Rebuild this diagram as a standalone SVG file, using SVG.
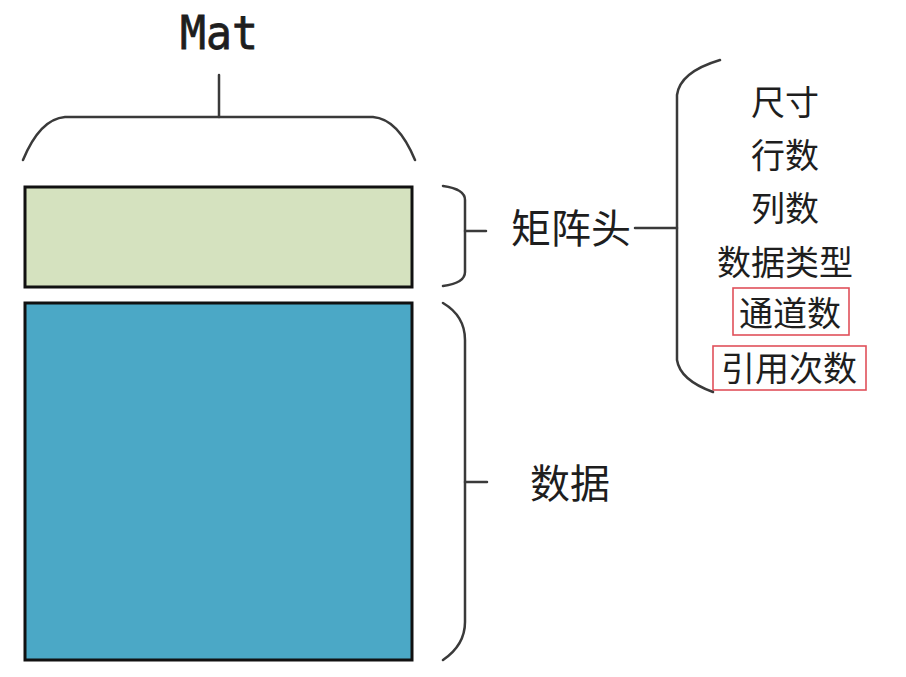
<svg xmlns="http://www.w3.org/2000/svg" width="906" height="677" viewBox="0 0 906 677">
<style>
.br{fill:none;stroke:#3a3a3a;stroke-width:2.5;stroke-linecap:round}
.t{font-family:"Noto Sans CJK SC","Noto Sans",sans-serif;fill:#1e1e1e;text-anchor:middle;dominant-baseline:central}
.s{font-size:34px}
.red{fill:none;stroke:#e0505a;stroke-width:1.6}
</style>
<rect width="906" height="677" fill="#ffffff"/>
<g id="mat">
<text x="219" y="33" font-family="DejaVu Sans Mono,monospace" font-size="46" fill="#1e1e1e" stroke="#1e1e1e" stroke-width="0.8" text-anchor="middle" dominant-baseline="central" textLength="78" lengthAdjust="spacingAndGlyphs">Mat</text>
</g>
<g id="header-block"><rect x="25" y="187" width="387" height="100" fill="#d5e2bf" stroke="#111" stroke-width="3"/></g>
<g id="data-block"><rect x="25" y="303" width="387" height="357" fill="#4ba8c6" stroke="#111" stroke-width="3"/></g>
<g id="header-label"><text class="t" x="571" y="226" font-size="40">矩阵头</text></g>
<g id="data-label"><text class="t" x="570" y="481" font-size="40">数据</text></g>
<g id="fields">
<text class="t s" x="785" y="100">尺寸</text>
<text class="t s" x="785" y="153">行数</text>
<text class="t s" x="785" y="206">列数</text>
<text class="t s" x="785" y="260">数据类型</text>
<text class="t s" x="790" y="311">通道数</text>
<rect class="red" x="733" y="288" width="116" height="47"/>
<text class="t s" x="789" y="366">引用次数</text>
<rect class="red" x="713" y="346" width="153" height="44"/>
</g>
<g id="connectors">
<line class="br" x1="219" y1="75" x2="219" y2="117"/>
<path class="br" d="M23,160 Q40,119 65,117 L373,117 Q398,119 415,160"/>
<path class="br" d="M443,186 Q465,189 465,200 L465,272 Q465,283 443,286"/>
<line class="br" x1="465" y1="231" x2="486" y2="231"/>
<path class="br" d="M443,303 Q465,316 465,340 L465,622 Q465,645 443,660"/>
<line class="br" x1="465" y1="482" x2="487" y2="482"/>
<line class="br" x1="635" y1="228" x2="677" y2="228"/>
<path class="br" d="M720,60 Q680,72 677,95 L677,360 Q680,380 713,392"/>
</g>
</svg>
